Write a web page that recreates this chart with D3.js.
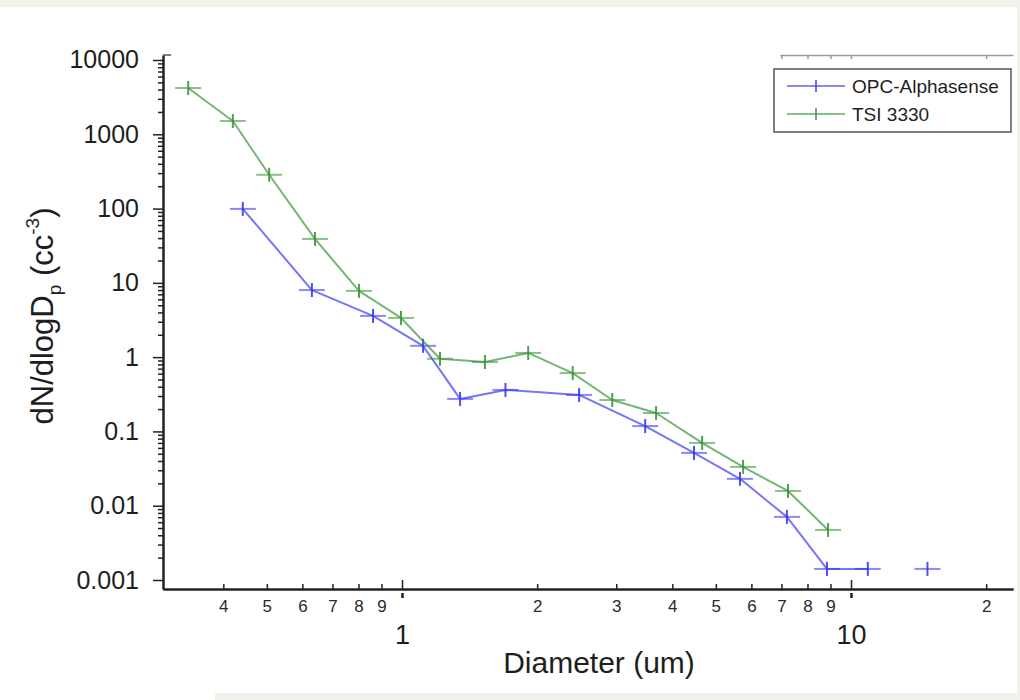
<!DOCTYPE html>
<html>
<head>
<meta charset="utf-8">
<script src="https://cdn.jsdelivr.net/npm/d3@7"></script>
<style>
  html, body { margin: 0; padding: 0; background: #ffffff; }
  svg { display: block; font-family: Arial, "Liberation Sans", sans-serif; }
</style>
</head>
<body>
<svg id="chart" width="1020" height="700"></svg>
<script>
// ---- data ----
const seriesNames = ["OPC-Alphasense", "TSI 3330"];
const opcDiameter = [0.442, 0.630, 0.862, 1.114, 1.347, 1.70, 2.48, 3.48, 4.47, 5.66, 7.20, 8.84, 10.9, 12.7, 14.8];
const opcConc     = [99, 8.0, 3.59, 1.42, 0.274, 0.362, 0.31, 0.118, 0.0514, 0.0230, 0.00707, 0.00141, 0.00141, null, 0.00141];
const tsiDiameter = [0.334, 0.420, 0.506, 0.640, 0.802, 0.995, 1.215, 1.53, 1.91, 2.40, 2.94, 3.68, 4.66, 5.75, 7.24, 8.89];
const tsiConc     = [4200, 1510, 285, 39, 7.8, 3.37, 0.95, 0.86, 1.14, 0.61, 0.265, 0.177, 0.070, 0.0333, 0.0158, 0.00472];
const yTickValues = [0.001, 0.01, 0.1, 1, 10, 100, 1000, 10000];
const yTickLabels = ["0.001", "0.01", "0.1", "1", "10", "100", "1000", "10000"];
const xMinorTicks = [0.4, 0.5, 0.6, 0.7, 0.8, 0.9, 2, 3, 4, 5, 6, 7, 8, 9, 20];
const xMinorLabels = ["4", "5", "6", "7", "8", "9", "2", "3", "4", "5", "6", "7", "8", "9", "2"];
const xMajorTicks = [1, 10];
const xMajorLabels = ["1", "10"];
const xTitle = "Diameter (um)";

(function () {
// ---- layout ----
const svg = d3.select("#chart");
const colors = { opc: "#3a3af2", tsi: "#3b963b" };

// background strips of the reference
svg.append("rect").attr("x", 0).attr("y", 0).attr("width", 1020).attr("height", 7).attr("fill", "#eff3e9");
svg.append("rect").attr("x", 1017).attr("y", 0).attr("width", 3).attr("height", 700).attr("fill", "#eff3e9");
svg.append("rect").attr("x", 215).attr("y", 693).attr("width", 805).attr("height", 7).attr("fill", "#eff3e9");

const pLeft = 163, pRight = 1013, pTop = 55, pBottom = 589;
// x: 1 -> 402, 10 -> 851 ; y: 1e4 -> 60, 1e-3 -> 580
const pxPerDecX = 449, pxPerDecY = 74.29;
const x = d3.scaleLog()
  .domain([Math.pow(10, (pLeft - 402) / pxPerDecX), Math.pow(10, (pRight - 402) / pxPerDecX)])
  .range([pLeft, pRight]);
const y = d3.scaleLog()
  .domain([Math.pow(10, -3 - (pBottom - 580) / pxPerDecY), Math.pow(10, 4 + (60 - pTop) / pxPerDecY)])
  .range([pBottom, pTop]);

// y minor ticks
const yMinor = [];
for (let e = -3; e < 4; e++) for (let k = 2; k <= 9; k++) yMinor.push(k * Math.pow(10, e));

const axisColor = "#222";

// ---- Y axis ----
const gyMinor = svg.append("g").attr("transform", `translate(${pLeft},0)`)
  .call(d3.axisLeft(y).tickValues(yMinor).tickSize(5).tickSizeOuter(0).tickFormat(""));
const gy = svg.append("g").attr("transform", `translate(${pLeft},0)`)
  .call(d3.axisLeft(y).tickValues(yTickValues).tickSize(10).tickSizeOuter(0).tickPadding(14)
    .tickFormat((d, i) => yTickLabels[i]));
[gyMinor, gy].forEach(g => {
  g.selectAll("path.domain").attr("stroke", axisColor).attr("stroke-width", 2);
  g.selectAll("line").attr("stroke", axisColor).attr("stroke-width", 1.5);
});
gy.selectAll("text").attr("font-size", 25).attr("fill", "#1e1e1e")
  .attr("font-family", "Arial, 'Liberation Sans', sans-serif");

// ---- X axis ----
const gxMinor = svg.append("g").attr("transform", `translate(0,${pBottom})`)
  .call(d3.axisTop(x).tickValues(xMinorTicks).tickSize(5).tickSizeOuter(0).tickFormat(""));
const gxMajor = svg.append("g").attr("transform", `translate(0,${pBottom})`)
  .call(d3.axisTop(x).tickValues(xMajorTicks).tickSize(9).tickSizeOuter(0).tickFormat(""));
const gxMajorBelow = svg.append("g").attr("transform", `translate(0,${pBottom + 4})`)
  .call(d3.axisBottom(x).tickValues(xMajorTicks).tickSize(5).tickSizeOuter(0).tickFormat(""));
gxMajorBelow.select("path.domain").remove();
[gxMinor, gxMajor, gxMajorBelow].forEach(g => {
  g.selectAll("path.domain").attr("stroke", axisColor).attr("stroke-width", 2);
  g.selectAll("line").attr("stroke", axisColor).attr("stroke-width", 1.5);
});
gxMajorBelow.selectAll("line").attr("stroke-width", 2.5);

const gxMinorLab = svg.append("g").attr("transform", `translate(0,${pBottom})`)
  .call(d3.axisBottom(x).tickValues(xMinorTicks).tickSize(0).tickPadding(11)
    .tickFormat((d, i) => xMinorLabels[i]));
gxMinorLab.select("path.domain").remove();
gxMinorLab.selectAll("text").attr("font-size", 17).attr("fill", "#2a2a2a")
  .attr("font-family", "Arial, 'Liberation Sans', sans-serif");

const gxMajorLab = svg.append("g").attr("transform", `translate(0,${pBottom})`)
  .call(d3.axisBottom(x).tickValues(xMajorTicks).tickSize(0).tickPadding(36)
    .tickFormat((d, i) => xMajorLabels[i]));
gxMajorLab.select("path.domain").remove();
gxMajorLab.selectAll("text").attr("font-size", 27).attr("fill", "#1e1e1e")
  .attr("font-family", "Arial, 'Liberation Sans', sans-serif");

// partial top frame (visible in reference, right part only)
const topStub = d3.scaleLog().domain([x.invert(780), x.domain()[1]]).range([780, pRight]);
const gTop = svg.append("g").attr("transform", `translate(0,${pTop})`)
  .call(d3.axisBottom(topStub).tickValues([7, 8, 9, 10, 20]).tickSize(4).tickSizeOuter(0).tickFormat(""));
gTop.selectAll("path.domain").attr("stroke", "#9a9a9a").attr("stroke-width", 1.5);
gTop.selectAll("line").attr("stroke", "#9a9a9a").attr("stroke-width", 1.5);
svg.append("line").attr("x1", pLeft).attr("x2", pLeft + 8).attr("y1", pTop).attr("y2", pTop)
  .attr("stroke", "#555").attr("stroke-width", 1.5);

// ---- titles ----
svg.append("text").attr("x", 599).attr("y", 673).attr("text-anchor", "middle")
  .attr("font-size", 30).attr("fill", "#1e1e1e").text(xTitle);

const yt = svg.append("text")
  .attr("transform", "translate(53,316) rotate(-90)")
  .attr("text-anchor", "middle").attr("font-size", 31).attr("fill", "#1e1e1e");
yt.append("tspan").text("dN/dlogD");
yt.append("tspan").attr("font-size", 19).attr("dy", 8).text("p");
yt.append("tspan").attr("dy", -8).text(" (cc");
yt.append("tspan").attr("font-size", 19).attr("dy", -14).text("-3");
yt.append("tspan").attr("dy", 14).text(")");

// ---- series ----
function drawSeries(xs, ys, color) {
  const pts = xs.map((d, i) => ({ x: d, y: ys[i] }));
  const line = d3.line().defined(d => d.y != null).x(d => x(d.x)).y(d => y(d.y));
  svg.append("path").datum(pts).attr("d", line).attr("fill", "none")
    .attr("stroke", color).attr("stroke-width", 2).attr("stroke-opacity", 0.7)
    .attr("stroke-linejoin", "round");
  const m = svg.append("g").selectAll("g").data(pts.filter(d => d.y != null)).join("g")
    .attr("transform", d => `translate(${x(d.x)},${y(d.y)})`);
  m.append("line").attr("x1", -13).attr("x2", 13).attr("y1", 0).attr("y2", 0)
    .attr("stroke", color).attr("stroke-width", 2).attr("stroke-opacity", 0.6);
  m.append("line").attr("x1", 0).attr("x2", 0).attr("y1", -7).attr("y2", 7)
    .attr("stroke", color).attr("stroke-width", 2).attr("stroke-opacity", 0.9);
}
drawSeries(opcDiameter, opcConc, colors.opc);
drawSeries(tsiDiameter, tsiConc, colors.tsi);

// ---- legend ----
const lg = svg.append("g");
lg.append("rect").attr("x", 774).attr("y", 69).attr("width", 237).attr("height", 63)
  .attr("fill", "#fff").attr("stroke", "#555").attr("stroke-width", 1.5);
const legendItems = [{ name: seriesNames[0], color: colors.opc }, { name: seriesNames[1], color: colors.tsi }];
legendItems.forEach((it, i) => {
  const yy = 86 + i * 28;
  lg.append("line").attr("x1", 787).attr("x2", 845).attr("y1", yy).attr("y2", yy)
    .attr("stroke", it.color).attr("stroke-width", 1.5).attr("stroke-opacity", 0.8);
  lg.append("line").attr("x1", 816).attr("x2", 816).attr("y1", yy - 6).attr("y2", yy + 6)
    .attr("stroke", it.color).attr("stroke-width", 1.5);
  lg.append("text").attr("x", 852).attr("y", yy).attr("dy", "0.35em")
    .attr("font-size", 19).attr("fill", "#1e1e1e").text(it.name);
});
})();
</script>
</body>
</html>
